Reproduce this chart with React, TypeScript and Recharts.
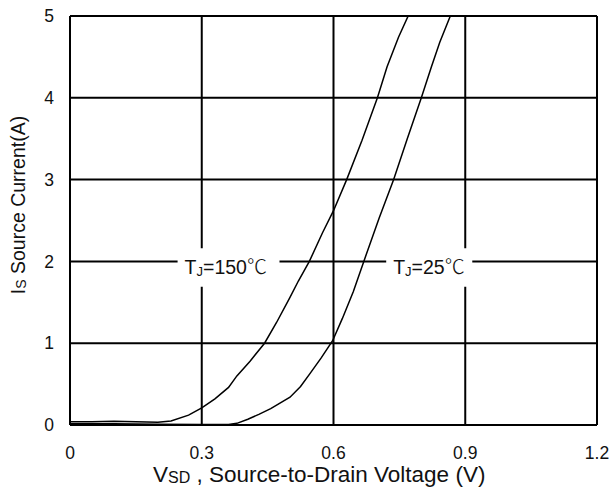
import React from "react"
import {
  LineChart,
  Line,
  XAxis,
  YAxis,
  CartesianGrid,
  ReferenceArea,
  Label
} from "recharts"

// Is vs Vsd
const tj150 = [
  { v: 0, i: 0.04 },
  { v: 0.05, i: 0.04 },
  { v: 0.1, i: 0.045 },
  { v: 0.15, i: 0.04 },
  { v: 0.2, i: 0.035 },
  { v: 0.23, i: 0.05 },
  { v: 0.27, i: 0.12 },
  { v: 0.3, i: 0.21 },
  { v: 0.33, i: 0.32 },
  { v: 0.361, i: 0.46 },
  { v: 0.38, i: 0.6 },
  { v: 0.41, i: 0.78 },
  { v: 0.443, i: 1.0 },
  { v: 0.47, i: 1.25 },
  { v: 0.5, i: 1.55 },
  { v: 0.52, i: 1.76 },
  { v: 0.545, i: 2.0 },
  { v: 0.575, i: 2.35 },
  { v: 0.6, i: 2.62 },
  { v: 0.63, i: 3.0 },
  { v: 0.665, i: 3.48 },
  { v: 0.7, i: 4.0 },
  { v: 0.722, i: 4.38 },
  { v: 0.748, i: 4.74 },
  { v: 0.77, i: 5.0 }
]

const tj25 = [
  { v: 0, i: 0.015 },
  { v: 0.1, i: 0.015 },
  { v: 0.2, i: 0.01 },
  { v: 0.3, i: 0.005 },
  { v: 0.361, i: 0.005 },
  { v: 0.38, i: 0.02 },
  { v: 0.405, i: 0.07 },
  { v: 0.43, i: 0.13 },
  { v: 0.457, i: 0.2 },
  { v: 0.501, i: 0.34 },
  { v: 0.525, i: 0.47 },
  { v: 0.548, i: 0.64 },
  { v: 0.572, i: 0.82 },
  { v: 0.598, i: 1.03 },
  { v: 0.62, i: 1.3 },
  { v: 0.645, i: 1.63 },
  { v: 0.669, i: 2.0 },
  { v: 0.704, i: 2.53 },
  { v: 0.737, i: 3.0 },
  { v: 0.768, i: 3.5 },
  { v: 0.8, i: 4.0 },
  { v: 0.823, i: 4.38 },
  { v: 0.842, i: 4.68 },
  { v: 0.866, i: 5.0 }
]

const xTicks = [0, 0.3, 0.6, 0.9, 1.2]
const yTicks = [0, 1, 2, 3, 4, 5]

const FONT = "'Liberation Sans', Arial, sans-serif"

function TjLabel({ viewBox, temp }: any) {
  if (!viewBox) return null
  const { x, y } = viewBox
  return (
    <text x={x + 7} y={y + 26} fontSize={19.5} fontFamily={FONT} fill="#111">
      <tspan>T</tspan>
      <tspan fontSize={13} dy={2}>J</tspan>
      <tspan dy={-2}>={temp}</tspan>
      <tspan fontFamily="'Noto Sans CJK SC'" fontWeight={300} fontSize={20}>℃</tspan>
    </text>
  )
}

function XTitle({ viewBox }: any) {
  if (!viewBox) return null
  return (
    <text x={153} y={viewBox.y + 57} fontSize={22.5} fontFamily={FONT} fill="#111">
      <tspan>V</tspan>
      <tspan fontSize={16} dy={1}>SD</tspan>
      <tspan dy={-1}> , Source-to-Drain Voltage (V)</tspan>
    </text>
  )
}

function YTitle({ viewBox }: any) {
  if (!viewBox) return null
  const cx = 25
  const cy = 205
  return (
    <text
      x={cx}
      y={cy}
      transform={`rotate(-90, ${cx}, ${cy})`}
      textAnchor="middle"
      fontSize={19.5}
      fontFamily={FONT}
      fill="#111"
    >
      <tspan>I</tspan>
      <tspan fontSize={14} dy={1}>S</tspan>
      <tspan dy={-1}> Source Current(A)</tspan>
    </text>
  )
}

export default function App() {
  return (
    <div style={{ position: "absolute", left: 0, top: 0, background: "#fff" }}>
      <LineChart
        width={609}
        height={495}
        margin={{ top: 16, right: 12, left: 0, bottom: 0 }}
      >
        <CartesianGrid stroke="#000" strokeWidth={2} />
        <XAxis
          type="number"
          dataKey="v"
          domain={[0, 1.2]}
          ticks={xTicks}
          height={70}
          tickLine={false}
          tickSize={6}
          tickMargin={16}
          axisLine={{ stroke: "#000", strokeWidth: 2 }}
          tick={{ fontSize: 17.5, fontFamily: FONT, fill: "#111" }}
          allowDataOverflow
        >
          <Label content={<XTitle />} />
        </XAxis>
        <YAxis
          type="number"
          dataKey="i"
          domain={[0, 5]}
          ticks={yTicks}
          width={70}
          tickLine={false}
          tickSize={6}
          tickMargin={10}
          axisLine={{ stroke: "#000", strokeWidth: 2 }}
          tick={{ fontSize: 17.5, fontFamily: FONT, fill: "#111" }}
          allowDataOverflow
        >
          <Label content={<YTitle />} />
        </YAxis>
        <ReferenceArea
          x1={0.245}
          x2={0.477}
          y1={1.69}
          y2={2.16}
          fill="#fff"
          fillOpacity={1}
          stroke="none"
          label={<TjLabel temp="150" />}
        />
        <ReferenceArea
          x1={0.72}
          x2={0.916}
          y1={1.69}
          y2={2.16}
          fill="#fff"
          fillOpacity={1}
          stroke="none"
          label={<TjLabel temp="25" />}
        />
        <Line
          data={tj150}
          dataKey="i"
          type="linear"
          stroke="#000"
          strokeWidth={1.5}
          dot={false}
          isAnimationActive={false}
        />
        <Line
          data={tj25}
          dataKey="i"
          type="linear"
          stroke="#000"
          strokeWidth={1.5}
          dot={false}
          isAnimationActive={false}
        />
      </LineChart>
    </div>
  )
}
